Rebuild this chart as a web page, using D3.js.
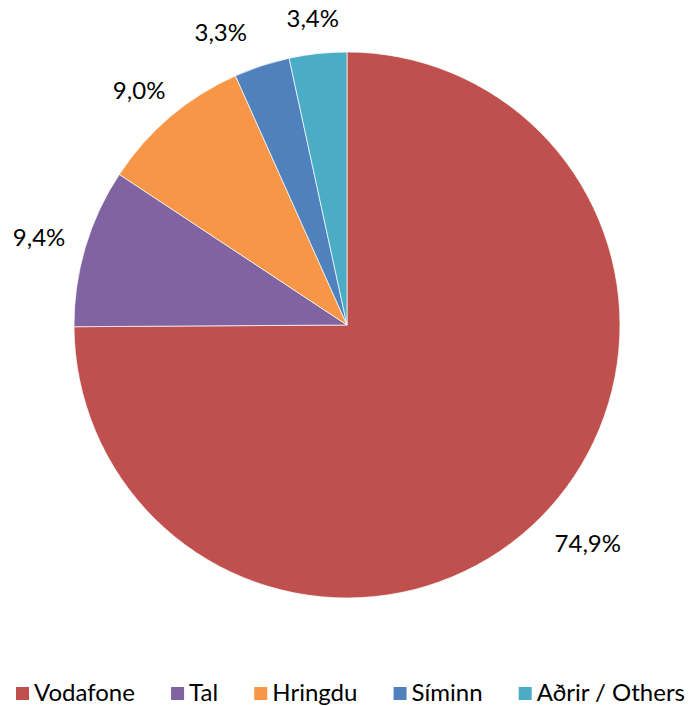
<!DOCTYPE html>
<html>
<head>
<meta charset="utf-8">
<script src="https://cdn.jsdelivr.net/npm/d3@7"></script>
<style>
  body { margin: 0; background: #fff; }
  text { font-family: Lato, "Open Sans", sans-serif; fill: #000; }
</style>
</head>
<body>
<div id="chart"></div>
<script>
const categories = ["Vodafone", "Tal", "Hringdu", "Síminn", "Aðrir / Others"];
const shares = [74.9, 9.4, 9.0, 3.3, 3.4];
const colors = ["#C0504D", "#8064A2", "#F79646", "#4F81BD", "#4BACC6"];

const width = 688, height = 706;
const cx = 347, cy = 325, radius = 273;

const svg = d3.select("#chart")
    .append("svg")
    .attr("width", width)
    .attr("height", height);

const color = d3.scaleOrdinal().domain(categories).range(colors);

const data = categories.map((c, i) => ({ name: c, value: shares[i] }));

// keep the order, start at 12 o'clock, go clockwise
const pie = d3.pie().value(d => d.value).sort(null);
const arcs = pie(data);

const arc = d3.arc().innerRadius(0).outerRadius(radius);

const g = svg.append("g").attr("transform", `translate(${cx},${cy})`);

g.selectAll("path")
    .data(arcs)
    .join("path")
    .attr("d", arc)
    .attr("fill", d => color(d.data.name))
    .attr("stroke", "#fff")
    .attr("stroke-width", 0.7);

// labels outside the end of each slice
const fmt = v => v.toFixed(1).replace(".", ",") + "%";
const labelR = radius + 22;

g.selectAll("text.lbl")
    .data(arcs)
    .join("text")
    .attr("class", "lbl")
    .attr("font-size", 24)
    .attr("text-anchor", "middle")
    .attr("dominant-baseline", "central")
    .text(d => fmt(d.data.value))
    .each(function(d) {
        const a = (d.startAngle + d.endAngle) / 2;
        const w = this.getComputedTextLength() / 2;
        let x = Math.sin(a) * (labelR + w);
        const y = -Math.cos(a) * (labelR + 14);
        // small neighbouring slices: push the first one aside
        if (d.index === 3) x -= 26;
        if (d.index === 0) x += 8;
        d3.select(this).attr("x", x).attr("y", y);
    });

// legend
const legend = svg.append("g");
const items = legend.selectAll("g")
    .data(categories)
    .join("g");

items.append("rect")
    .attr("width", 13)
    .attr("height", 13)
    .attr("y", -14)
    .attr("fill", d => color(d));

items.append("text")
    .attr("x", 18)
    .attr("y", 0)
    .attr("font-size", 24)
    .text(d => d);

const left = 16, right = 685;
const widths = [];
items.each(function() { widths.push(this.getBBox().width); });
const gap = (right - left - d3.sum(widths)) / (widths.length - 1);
let xPos = left;
items.each(function(d, i) {
    d3.select(this).attr("transform", `translate(${xPos},0)`);
    xPos += widths[i] + gap;
});
legend.attr("transform", `translate(0,701)`);
</script>
</body>
</html>
